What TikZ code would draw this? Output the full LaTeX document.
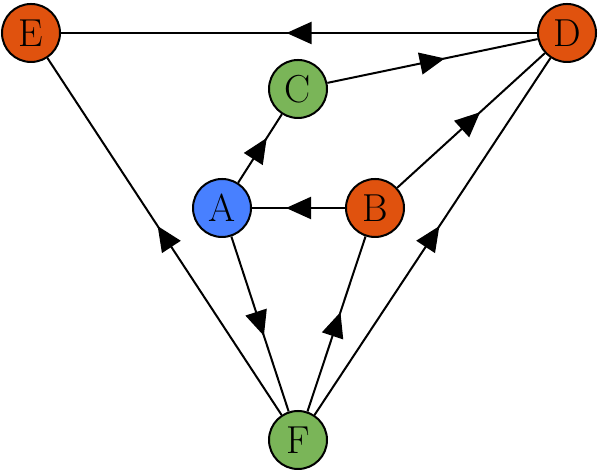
\documentclass[tikz,border=0pt]{standalone}
\usepackage{amssymb, amsmath}
\usepackage{tikz}
\usetikzlibrary{arrows.meta,decorations.markings}

\definecolor{vorange}{RGB}{224,82,14}
\definecolor{vblue}{RGB}{72,128,255}
\definecolor{vgreen}{RGB}{122,181,88}

\tikzset{
	vertex/.style={circle, draw=black, line width=1pt, minimum size=29pt,
		inner sep=0pt, font=\fontsize{19.5}{23}\selectfont},
	midarrow/.style={postaction={decorate}, decoration={markings,
		mark=at position 0.5 with {\arrow[xshift=6.25pt]{Triangle[length=12.5pt,width=11pt]}}}}
}

\begin{document}
\begin{tikzpicture}[x=0.5pt, y=0.5pt]
	\useasboundingbox (0,0) rectangle (598,474);
	% vertices
	\node[vertex, fill=vorange] (E) at (31,441) {E};
	\node[vertex, fill=vorange] (D) at (567,441) {D};
	\node[vertex, fill=vgreen] (C) at (298,385) {C};
	\node[vertex, fill=vblue] (A) at (222,266) {A};
	\node[vertex, fill=vorange] (B) at (375,266) {B};
	\node[vertex, fill=vgreen] (F) at (298,34) {F};
	% edges
	\draw[line width=1pt, midarrow] (D) -- (E);
	\draw[line width=1pt, midarrow] (C) -- (D);
	\draw[line width=1pt, midarrow] (A) -- (C);
	\draw[line width=1pt, midarrow] (B) -- (A);
	\draw[line width=1pt, midarrow] (B) -- (D);
	\draw[line width=1pt, midarrow] (A) -- (F);
	\draw[line width=1pt, midarrow] (F) -- (B);
	\draw[line width=1pt, midarrow] (F) -- (D);
	\draw[line width=1pt, midarrow] (F) -- (E);
\end{tikzpicture}
\end{document}
